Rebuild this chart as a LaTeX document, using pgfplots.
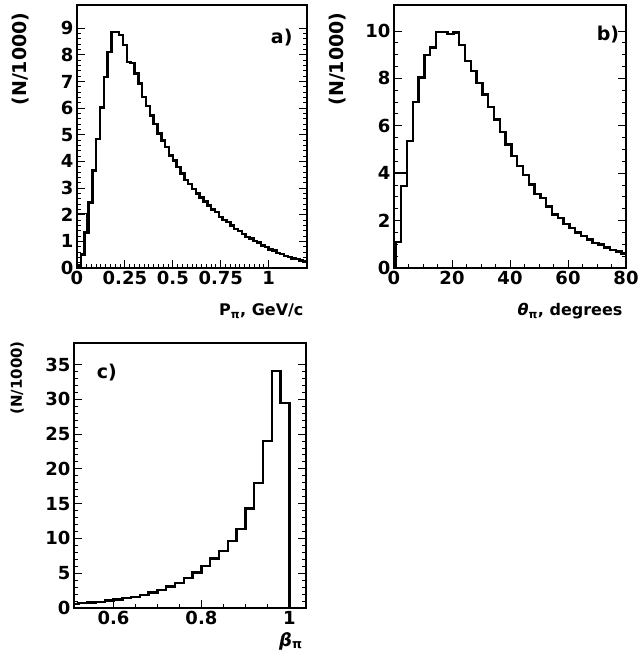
\documentclass[border=0pt]{standalone}
\usepackage{fontspec}
\setmainfont{DejaVu Sans}
\usepackage{pgfplots}
\pgfplotsset{compat=1.18}
\begin{document}
\begin{tikzpicture}[x=1pt,y=1pt]
\path[use as bounding box] (0,0) rectangle (637,669);
\pgfplotsset{
  hist/.style={
    scale only axis,
    axis line style={line width=1.6pt},
    tick align=inside,
    xtick pos=left,
    ytick pos=both,
    major tick length=8pt,
    minor tick length=4pt,
    every tick/.style={line width=1pt,black},
    /pgf/number format/assume math mode=true,
    tick label style={font=\bfseries\fontsize{18}{20}\selectfont},
    every axis y label/.style={at={(axis description cs:-0.245,0.985)},rotate=90,anchor=east,font=\bfseries\fontsize{19}{21}\selectfont},
    every axis x label/.style={at={(axis description cs:1,-0.165)},anchor=east,font=\bfseries\fontsize{16}{18}\selectfont},
    clip=true,
  },
  hline/.style={const plot, line width=2.4pt, black, mark=none},
}
% ---------- a)
\begin{axis}[hist, at={(77pt,401pt)}, anchor=south west, width=230pt, height=263pt,
  xmin=0, xmax=1.2, ymin=0, ymax=9.87,
  xtick={0,0.25,0.5,0.75,1}, xticklabels={0,0.25,0.5,0.75,1},
  minor x tick num=9,
  ytick={0,1,2,3,4,5,6,7,8,9}, minor y tick num=4,
  ylabel={(N/1000)}, xlabel={P\textsubscript{π}, GeV/c}]
\addplot[hline] coordinates {
(0.00,0.1) (0.02,0.5) (0.04,1.33) (0.06,2.46) (0.08,3.66) (0.10,4.85)
(0.12,6.02) (0.14,7.17) (0.16,8.1) (0.18,8.85) (0.20,8.85) (0.22,8.75)
(0.24,8.37) (0.26,7.74) (0.28,7.7) (0.30,7.3) (0.32,6.92) (0.34,6.42)
(0.36,6.07) (0.38,5.73) (0.40,5.41) (0.42,5.04) (0.44,4.79) (0.46,4.54)
(0.48,4.22) (0.50,4.03) (0.52,3.78) (0.54,3.55) (0.56,3.3) (0.58,3.15)
(0.60,2.97) (0.62,2.8) (0.64,2.65) (0.66,2.5) (0.68,2.35) (0.70,2.2)
(0.72,2.1) (0.74,1.92) (0.76,1.8) (0.78,1.72) (0.80,1.6) (0.82,1.47)
(0.84,1.38) (0.86,1.28) (0.88,1.16) (0.90,1.1) (0.92,1.02) (0.94,0.95)
(0.96,0.85) (0.98,0.78) (1.00,0.7) (1.02,0.66) (1.04,0.56) (1.06,0.52)
(1.08,0.45) (1.10,0.42) (1.12,0.36) (1.14,0.33) (1.16,0.28) (1.18,0.24)
(1.20,0.24)};
\addplot[line width=1.6pt, black, mark=none] coordinates {(0,2.05) (0.05,2.05) (0.05,1.33)};
\node[font=\bfseries\fontsize{19}{21}\selectfont] at (axis description cs:0.89,0.878) {a)};
\end{axis}
% ---------- b)
\begin{axis}[hist, at={(394pt,401pt)}, anchor=south west, width=232pt, height=263pt,
  xmin=0, xmax=80, ymin=0, ymax=11.1,
  xtick={0,20,40,60,80}, minor x tick num=3,
  ytick={0,2,4,6,8,10}, minor y tick num=3,
  ylabel={(N/1000)}, xlabel={{\itshape θ}\textsubscript{π}, degrees}]
\addplot[hline] coordinates {
(0.6,0) (0.6,1.1) (2.5,3.45) (4.5,5.35) (6.5,7.0) (8.5,8.04) (10.5,8.98)
(12.5,9.31) (14.5,9.97) (16.5,9.97) (18.5,9.87) (20.5,9.94) (22.5,9.4)
(24.5,8.73) (26.5,8.31) (28.5,7.82) (30.5,7.32) (32.5,6.8) (34.5,6.27)
(36.5,5.73) (38.5,5.21) (40.5,4.72) (42.5,4.3) (44.5,3.92) (46.5,3.52)
(48.5,3.13) (50.5,2.96) (52.5,2.6) (54.5,2.25) (56.5,2.1) (58.5,1.85)
(60.5,1.69) (62.5,1.5) (64.5,1.35) (66.5,1.2) (68.5,1.05) (70.5,1.0)
(72.5,0.87) (74.5,0.77) (76.5,0.69) (78.5,0.62) (80,0.62)};
\addplot[line width=1.6pt, black, mark=none] coordinates {(0,4) (4.5,4)};
\node[font=\bfseries\fontsize{19}{21}\selectfont] at (axis description cs:0.922,0.886) {b)};
\end{axis}
% ---------- c)
\begin{axis}[hist, at={(74pt,61pt)}, anchor=south west, width=232pt, height=265pt,
  xmin=0.51, xmax=1.038, ymin=0, ymax=38.1,
  xtick={0.6,0.8,1}, xticklabels={0.6,0.8,1}, minor x tick num=3,
  ytick={0,5,10,15,20,25,30,35}, minor y tick num=4,
  every axis y label/.style={at={(axis description cs:-0.245,1.02)},rotate=90,anchor=east,font=\bfseries\fontsize{15}{17}\selectfont},
  every axis x label/.style={at={(axis description cs:1,-0.125)},anchor=east,font=\bfseries\fontsize{18}{20}\selectfont},
  ylabel={(N/1000)}, xlabel={{\itshape β}\textsubscript{π}}]
\addplot[hline] coordinates {
(0.50,0.6) (0.52,0.7) (0.54,0.8) (0.56,0.9) (0.58,1.05) (0.60,1.2)
(0.62,1.4) (0.64,1.6) (0.66,1.9) (0.68,2.2) (0.70,2.6) (0.72,3.1)
(0.74,3.6) (0.76,4.3) (0.78,5.1) (0.80,6.0) (0.82,7.1) (0.84,8.2)
(0.86,9.6) (0.88,11.4) (0.90,14.3) (0.92,18.0) (0.94,24.0) (0.96,34.1)
(0.98,29.5) (1.00,0) (1.04,0)};
\node[font=\bfseries\fontsize{19}{21}\selectfont] at (axis description cs:0.142,0.887) {c)};
\end{axis}
\end{tikzpicture}
\end{document}
